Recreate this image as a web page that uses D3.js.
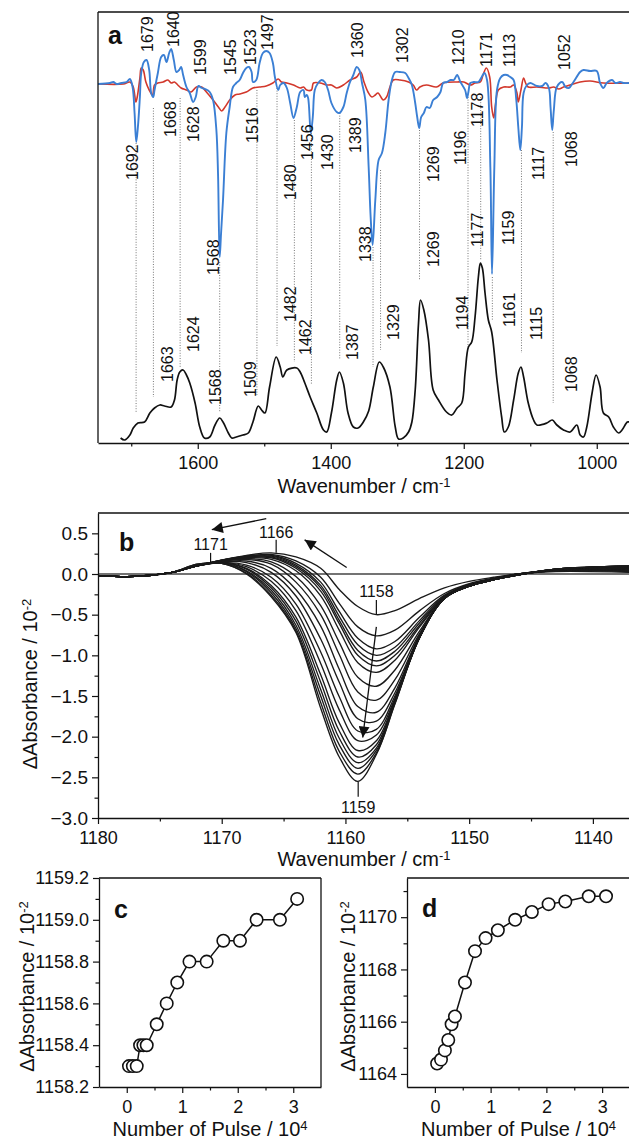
<!DOCTYPE html>
<html>
<head>
<meta charset="utf-8">
<script src="https://cdn.jsdelivr.net/npm/d3@7"></script>
<style>
body { margin: 0; background: #fff; }
svg { font-family: "Liberation Sans", Arial, sans-serif; }
</style>
</head>
<body>
<svg id="fig" width="629" height="1140"></svg>
<script>
"use strict";

// ---- panel a: difference spectra (blue, red) and reference spectrum (black), [wavenumber, value]
const blueSpectrum = [
  [1750,0],[1732,0.01],[1727,0.02],[1722,0],[1715,0.01],[1707,0.02],[1702,0.05],[1698,-0.03],[1695,-0.29],[1692.5,-0.58],[1690,-0.43],
  [1687,-0.13],[1685,0.11],[1681,0.22],[1677,0.24],[1673,0.14],[1670,-0.09],[1667,-0.13],[1665,-0.06],[1660,0.11],[1655,0.27],
  [1651,0.29],[1647,0.22],[1643,0.31],[1640,0.35],[1636,0.24],[1632,0.12],[1628,0.14],[1625,0.17],[1622,0.09],[1617,-0.03],
  [1612,-0.09],[1607,-0.18],[1603,-0.13],[1599,-0.02],[1594,-0.04],[1589,-0.05],[1582,-0.08],[1577,-0.16],[1572,-0.46],
  [1569.5,-0.9],[1567,-1.73],[1565,-1.5],[1562,-1.16],[1557,-0.49],[1552,-0.23],[1547,-0.03],[1542,0.01],[1537,0.04],[1532,0.11],
  [1527,0.16],[1523,0.17],[1519,0.12],[1517,0.02],[1512,0.04],[1507,0.21],[1502,0.31],[1497,0.33],[1492,0.31],[1487,0.21],
  [1484,0.07],[1479,-0.06],[1476,-0.01],[1471,0.01],[1466,-0.04],[1461,-0.19],[1456,-0.34],[1451,-0.23],[1446,-0.08],[1441,-0.06],
  [1439,-0.13],[1436,-0.11],[1434,-0.14],[1430,-0.49],[1427,-0.33],[1424,-0.06],[1419,0.01],[1414,0.04],[1409,0.02],[1404,-0.06],
  [1399,-0.19],[1391,-0.28],[1387,-0.29],[1381,-0.23],[1376,-0.09],[1371,0.02],[1366,0.09],[1361,0.17],[1357,0.14],[1353,0.01],
  [1348,-0.16],[1343,-0.83],[1340,-1.33],[1337,-1.61],[1333,-1.16],[1328,-0.76],[1323,-0.69],[1318,-0.49],[1313,-0.16],[1308,0.04],
  [1303,0.12],[1296,0.12],[1288,0.11],[1283,0.06],[1278,-0.01],[1273,-0.19],[1270,-0.33],[1267,-0.44],[1264,-0.33],[1260,-0.29],
  [1256,-0.23],[1251,-0.24],[1246,-0.16],[1240,-0.13],[1235,-0.08],[1231,0.01],[1225,0.02],[1220,0.04],[1215,0.04],[1210,0.09],
  [1205,0.02],[1198,-0.06],[1195,-0.14],[1193,-0.08],[1190,0.01],[1185,0.02],[1178,0.02],[1173,0.07],[1169,0.11],[1165,0.04],
  [1160,-0.83],[1157.5,-1.9],[1154,-0.83],[1150,-0.06],[1145,0.06],[1140,0.09],[1135,0.09],[1130,0.07],[1125,0.04],[1121,-0.16],
  [1118,-0.43],[1115,-0.66],[1112.5,-0.43],[1110,-0.09],[1105,-0.01],[1100,0.01],[1090,-0.02],[1082,-0.02],[1077,0.01],[1072,-0.04],
  [1069.5,-0.23],[1067,-0.46],[1064.5,-0.26],[1060,-0.03],[1052,0.02],[1047,-0.03],[1042,-0.04],[1035,0.02],[1025,0.12],[1020,0.14],
  [1010,0.13],[1000,0.13],[995,0.01],[990,-0.04],[985,0.01],[977,0.04],[972,0.01],[965,0.02],[960,0.01],[950,0.01]
];

const redSpectrum = [
  [1750,0],[1712,0],[1702,0.02],[1697,-0.03],[1693,-0.18],[1691,-0.13],[1687,0.06],[1685,0.16],[1682,0.14],[1678,0.02],
  [1673,-0.06],[1668,-0.11],[1665,-0.01],[1660,0.01],[1652,0.02],[1645,0.04],[1640,0.01],[1635,0.02],[1630,-0.01],[1625,-0.04],
  [1617,-0.06],[1610,-0.08],[1602,-0.03],[1594,-0.03],[1587,-0.08],[1577,-0.16],[1569,-0.23],[1564,-0.27],[1559,-0.23],[1552,-0.16],
  [1544,-0.11],[1537,-0.1],[1527,-0.08],[1517,-0.04],[1507,-0.03],[1497,-0.02],[1487,0.01],[1479,0.05],[1474,0.02],[1466,0.01],
  [1456,-0.01],[1446,-0.04],[1441,-0.03],[1436,-0.06],[1429,-0.06],[1426,0.01],[1416,0.01],[1406,-0.01],[1399,-0.01],[1391,-0.04],
  [1381,-0.01],[1371,0.04],[1361,0.07],[1355,0.12],[1350,0.02],[1344,-0.08],[1338,-0.13],[1333,-0.11],[1329,-0.09],[1321,-0.16],
  [1316,-0.13],[1311,-0.03],[1306,0.04],[1296,0.04],[1283,0.02],[1276,-0.01],[1271,-0.06],[1266,-0.03],[1256,-0.01],[1241,-0.03],
  [1231,0.01],[1210,0.02],[1200,0.02],[1190,-0.01],[1183,0.01],[1175,0.02],[1171,0.09],[1166,0.16],[1161,0.07],[1158,-0.23],
  [1155,-0.34],[1152,-0.19],[1148,-0.06],[1140,-0.03],[1130,-0.03],[1125,-0.01],[1120,-0.09],[1118,-0.18],[1114,-0.06],[1110,0.06],
  [1107,0.01],[1103,-0.03],[1090,-0.03],[1072,-0.04],[1065,-0.03],[1057,-0.05],[1050,-0.03],[1040,-0.01],[1025,0.02],[1010,0.03],
  [990,0.01],[950,0.01]
];

const blackSpectrum = [
  [1716,0.06],[1710,0.04],[1702,0.09],[1697,0.16],[1690,0.21],[1680,0.22],[1672,0.31],[1665,0.36],[1657,0.39],[1650,0.38],
  [1640,0.37],[1635,0.44],[1631,0.64],[1627,0.72],[1622,0.74],[1617,0.69],[1612,0.61],[1604,0.41],[1597,0.17],[1590,0.06],
  [1582,0.07],[1574,0.19],[1567,0.26],[1562,0.22],[1554,0.11],[1549,0.06],[1542,0.07],[1532,0.09],[1524,0.11],[1517,0.22],
  [1509,0.38],[1504,0.34],[1499,0.31],[1492,0.57],[1482,0.87],[1476,0.77],[1472,0.67],[1466,0.74],[1451,0.76],[1446,0.72],
  [1439,0.61],[1431,0.47],[1421,0.31],[1411,0.14],[1406,0.12],[1399,0.31],[1391,0.64],[1387,0.72],[1381,0.61],[1374,0.31],
  [1366,0.17],[1359,0.16],[1351,0.22],[1343,0.33],[1336,0.57],[1327,0.82],[1321,0.77],[1311,0.57],[1303,0.17],[1298,0.05],
  [1291,0.06],[1283,0.12],[1278,0.22],[1273,0.54],[1268,1.21],[1265,1.44],[1260,1.34],[1253,1.04],[1246,0.54],[1238,0.44],
  [1226,0.32],[1218,0.29],[1210,0.36],[1203,0.41],[1198,0.71],[1193,0.97],[1188,1.02],[1183,1.27],[1178,1.67],[1175,1.81],
  [1172,1.76],[1168,1.51],[1163,1.24],[1158,1.12],[1150,0.64],[1143,0.27],[1139,0.12],[1133,0.17],[1125,0.44],[1118,0.71],
  [1114,0.77],[1110,0.67],[1103,0.41],[1095,0.24],[1090,0.19],[1075,0.21],[1067,0.24],[1060,0.19],[1050,0.14],[1040,0.12],
  [1030,0.19],[1025,0.09],[1020,0.07],[1015,0.17],[1007,0.51],[1001,0.69],[995,0.57],[990,0.31],[982,0.27],[975,0.17],
  [967,0.11],[962,0.14],[954,0.22],[951,0.22]
];
const blackOffset = -3.6;

const aMajorTicks = [1000, 1200, 1400, 1600];
const aMinorTicks = [1100, 1300, 1500, 1700];

// band labels: [text, wavenumber of label centre, value at label start]
const aLabels = [
  ["1679",1676.2,0.32],["1640",1637.0,0.37],["1599",1596.3,0.09],["1545",1551.1,0.09],["1523",1521.0,0.19],["1497",1495.4,0.34],
  ["1360",1359.8,0.26],["1302",1292.0,0.21],["1210",1207.6,0.19],["1171",1166.9,0.17],["1113",1132.3,0.17],["1052",1049.5,0.14],
  ["1692",1698.8,-0.96],["1668",1641.5,-0.53],["1628",1606.9,-0.58],["1568",1576.7,-1.91],["1516",1518.0,-0.59],["1480",1460.7,-1.16],
  ["1456",1435.1,-0.76],["1430",1405.0,-0.86],["1389",1362.8,-0.69],["1338",1347.7,-1.78],["1269",1245.3,-0.98],["1196",1204.6,-0.81],
  ["1178",1179.0,-0.43],["1177",1179.0,-1.63],["1159",1133.8,-1.61],["1117",1088.6,-0.96],["1068",1038.9,-0.83],["1269",1245.3,-1.83],
  ["1663",1646.0,-2.98],["1624",1606.9,-2.68],["1568",1573.7,-3.21],["1509",1521.0,-3.13],["1482",1460.7,-2.38],["1462",1438.1,-2.71],
  ["1387",1367.3,-2.76],["1329",1305.6,-2.56],["1194",1201.6,-2.46],["1161",1132.3,-2.43],["1115",1091.6,-2.56],["1068",1038.9,-3.08]
];

// dotted guide lines: [wavenumber, top value, bottom value]
const aGuides = [
  [1692.7,-0.59,-3.29],[1666.7,-0.24,-3.13],[1626.5,-0.14,-2.83],[1567,-1.78,-3.28],[1511,-0.06,-3.11],[1480.8,-0.04,-2.62],
  [1454.7,-0.36,-2.78],[1429.1,-0.49,-3.01],[1386.5,-0.29,-2.76],[1336.4,-1.63,-2.83],[1325.1,-0.86,-2.66],[1266.5,-0.46,-1.96],
  [1193.6,-0.13,-2.63],[1174.5,-0.13,-1.76],[1157,-1.93,-2.36],[1113.2,-0.66,-2.69],[1065.5,-0.48,-3.19]
];

// ---- panel b: series of difference spectra
const bWavenumbers = [1180,1177,1174,1172,1170,1168,1166,1164,1162,1160.5,1159,1157.5,1156,1154,1152,1150,1148,1146,1143,1137];
const bSpectra = [
  [-0.02,-0.03,0.02,0.10,0.17,0.23,0.26,0.21,0.07,-0.19,-0.40,-0.50,-0.45,-0.30,-0.17,-0.09,-0.04,0.00,0.03,0.02],
  [-0.02,-0.03,0.02,0.10,0.17,0.22,0.24,0.16,-0.04,-0.36,-0.65,-0.76,-0.69,-0.45,-0.24,-0.12,-0.05,0.00,0.04,0.03],
  [-0.02,-0.03,0.02,0.10,0.17,0.22,0.23,0.13,-0.10,-0.46,-0.79,-0.92,-0.83,-0.53,-0.26,-0.13,-0.06,0.00,0.04,0.04],
  [-0.02,-0.03,0.02,0.10,0.17,0.21,0.22,0.11,-0.14,-0.52,-0.87,-1.00,-0.90,-0.57,-0.27,-0.13,-0.06,0.00,0.04,0.04],
  [-0.02,-0.03,0.02,0.10,0.16,0.21,0.21,0.09,-0.17,-0.57,-0.94,-1.07,-0.95,-0.60,-0.28,-0.13,-0.06,0.00,0.04,0.05],
  [-0.02,-0.03,0.02,0.10,0.16,0.20,0.20,0.07,-0.21,-0.61,-1.00,-1.13,-1.00,-0.63,-0.28,-0.14,-0.06,0.00,0.05,0.05],
  [-0.02,-0.03,0.02,0.10,0.16,0.20,0.18,0.04,-0.27,-0.69,-1.09,-1.21,-1.06,-0.65,-0.29,-0.14,-0.06,0.00,0.05,0.06],
  [-0.02,-0.03,0.02,0.10,0.16,0.19,0.15,-0.03,-0.39,-0.84,-1.27,-1.38,-1.18,-0.70,-0.29,-0.14,-0.07,0.00,0.05,0.06],
  [-0.02,-0.03,0.02,0.10,0.16,0.18,0.12,-0.10,-0.50,-0.99,-1.45,-1.55,-1.30,-0.73,-0.30,-0.15,-0.07,-0.01,0.05,0.07],
  [-0.02,-0.03,0.02,0.10,0.15,0.16,0.07,-0.19,-0.64,-1.17,-1.63,-1.70,-1.40,-0.75,-0.30,-0.15,-0.07,-0.01,0.05,0.07],
  [-0.02,-0.03,0.02,0.10,0.15,0.14,0.02,-0.27,-0.80,-1.33,-1.78,-1.81,-1.46,-0.76,-0.30,-0.15,-0.07,-0.01,0.05,0.08],
  [-0.02,-0.03,0.02,0.10,0.14,0.11,-0.04,-0.37,-0.96,-1.51,-1.93,-1.91,-1.50,-0.77,-0.30,-0.15,-0.07,-0.01,0.06,0.08],
  [-0.02,-0.03,0.02,0.10,0.14,0.09,-0.09,-0.45,-1.10,-1.67,-2.05,-1.98,-1.53,-0.77,-0.30,-0.15,-0.07,-0.01,0.06,0.09],
  [-0.02,-0.03,0.02,0.10,0.14,0.07,-0.14,-0.53,-1.24,-1.83,-2.17,-2.05,-1.55,-0.78,-0.30,-0.15,-0.07,-0.01,0.06,0.09],
  [-0.02,-0.03,0.02,0.10,0.14,0.06,-0.17,-0.58,-1.33,-1.93,-2.25,-2.10,-1.56,-0.78,-0.30,-0.15,-0.07,-0.01,0.06,0.09],
  [-0.02,-0.03,0.02,0.11,0.14,0.04,-0.20,-0.63,-1.42,-2.02,-2.32,-2.14,-1.57,-0.78,-0.30,-0.15,-0.07,-0.01,0.06,0.10],
  [-0.02,-0.03,0.02,0.11,0.13,0.03,-0.23,-0.67,-1.50,-2.10,-2.39,-2.17,-1.58,-0.78,-0.30,-0.15,-0.07,-0.01,0.06,0.10],
  [-0.02,-0.03,0.02,0.12,0.13,0.01,-0.26,-0.70,-1.58,-2.18,-2.46,-2.20,-1.59,-0.78,-0.30,-0.15,-0.07,-0.01,0.06,0.10],
  [-0.02,-0.03,0.02,0.12,0.13,0.00,-0.28,-0.72,-1.65,-2.25,-2.55,-2.22,-1.60,-0.78,-0.30,-0.15,-0.07,-0.01,0.06,0.10]
];
const bMajorX = [1180, 1170, 1160, 1150, 1140];
const bMinorX = [1175, 1165, 1155, 1145];
const bMajorY = [-3.0, -2.5, -2.0, -1.5, -1.0, -0.5, 0.0, 0.5];
const bMinorY = [-2.75, -2.25, -1.75, -1.25, -0.75, -0.25, 0.25];
// peak markers: [text, wavenumber, tick from, tick to, text baseline value]
const bPeakMarks = [
  ["1171", 1170.9, 0.14, 0.26, 0.29],
  ["1166", 1165.6, 0.26, 0.42, 0.44],
  ["1158", 1157.5, -0.50, -0.32, -0.28],
  ["1159", 1158.97, -2.55, -2.74, -2.94]
];
// arrows: [from wn, from value, to wn, to value]
const bArrows = [
  [1166.4, 0.68, 1170.8, 0.545],
  [1159.9, 0.08, 1163.3, 0.42],
  [1157.5, -0.65, 1158.6, -2.01]
];

// ---- panels c and d: band position against number of pulses
const pulses = [0.04, 0.11, 0.18, 0.24, 0.30, 0.36, 0.54, 0.72, 0.91, 1.13, 1.44, 1.74, 2.04, 2.34, 2.76, 3.07];
const band1159 = [1158.3,1158.3,1158.3,1158.4,1158.4,1158.4,1158.5,1158.6,1158.7,1158.8,1158.8,1158.9,1158.9,1159.0,1159.0,1159.1];
const band1166 = [1164.4,1164.55,1164.9,1165.3,1165.9,1166.2,1167.5,1168.7,1169.2,1169.5,1169.9,1170.2,1170.5,1170.6,1170.8,1170.8];
const pulseMajor = [0, 1, 2, 3];
const pulseMinor = [0.5, 1.5, 2.5];
const cMajorY = [1158.2, 1158.4, 1158.6, 1158.8, 1159.0, 1159.2];
const cMinorY = [1158.3, 1158.5, 1158.7, 1158.9, 1159.1];
const dMajorY = [1164, 1166, 1168, 1170];
const dMinorY = [1165, 1167, 1169, 1171];

const ink = "#111";
const svg = d3.select("#fig");

svg.append("defs").append("marker")
    .attr("id", "head")
    .attr("viewBox", "0 0 10 10")
    .attr("refX", 10).attr("refY", 5)
    .attr("markerUnits", "userSpaceOnUse")
    .attr("markerWidth", 17).attr("markerHeight", 11)
    .attr("orient", "auto")
    .append("path").attr("d", "M0,0L10,5L0,10z").attr("fill", ink);

function styleAxis(g, fs) {
    g.attr("font-family", null).attr("font-size", fs);
    g.selectAll("text").attr("fill", ink);
    g.selectAll("line").attr("stroke", ink).attr("stroke-width", 1.2);
    g.selectAll(".domain").attr("stroke", ink).attr("stroke-width", 1.3);
    return g;
}

function xAxis(scale, y, major, minor, fmt, fs) {
    const g = svg.append("g").attr("transform", `translate(0,${y})`);
    g.call(d3.axisBottom(scale).tickValues(major).tickFormat(fmt).tickSize(6).tickSizeOuter(0).tickPadding(7));
    g.append("g").call(d3.axisBottom(scale).tickValues(minor).tickFormat("").tickSize(3.5))
        .call(m => m.select(".domain").remove());
    return styleAxis(g, fs);
}

function yAxis(scale, x, major, minor, fmt, fs) {
    const g = svg.append("g").attr("transform", `translate(${x},0)`);
    g.call(d3.axisLeft(scale).tickValues(major).tickFormat(fmt).tickSize(6).tickSizeOuter(0).tickPadding(4));
    g.append("g").call(d3.axisLeft(scale).tickValues(minor).tickFormat("").tickSize(3.5))
        .call(m => m.select(".domain").remove());
    return styleAxis(g, fs);
}

function frameLine(x1, y1, x2, y2) {
    svg.append("line").attr("x1", x1).attr("y1", y1).attr("x2", x2).attr("y2", y2)
        .attr("stroke", ink).attr("stroke-width", 1.3);
}

function title(text, sup, x, y, rotate, fs) {
    const t = svg.append("text")
        .attr("transform", `translate(${x},${y})` + (rotate ? " rotate(-90)" : ""))
        .attr("text-anchor", "middle").attr("font-size", fs).attr("fill", ink)
        .text(text);
    t.append("tspan").attr("dy", "-0.45em").attr("font-size", "0.65em").text(sup);
}

function panelLetter(letter, x, y) {
    svg.append("text").attr("x", x).attr("y", y).attr("font-size", 25).attr("font-weight", "bold")
        .attr("fill", ink).text(letter);
}

// ================= panel a =================
const xA = d3.scaleLinear([1750, 950], [98, 630]);
const yA = d3.scaleLinear([-3.59, 0.72], [443, 12]);

svg.append("clipPath").attr("id", "clipA").append("rect")
    .attr("x", 98).attr("y", 12).attr("width", 532).attr("height", 431);

const lineA = d3.line().x(d => xA(d[0])).y(d => yA(d[1])).curve(d3.curveCatmullRom.alpha(0.5));

const guides = svg.append("g");
guides.selectAll("line").data(aGuides).join("line")
    .attr("x1", d => xA(d[0])).attr("x2", d => xA(d[0]))
    .attr("y1", d => yA(d[1])).attr("y2", d => yA(d[2]))
    .attr("stroke", "#777").attr("stroke-width", 1).attr("stroke-dasharray", "1,1.6");

const curvesA = svg.append("g").attr("clip-path", "url(#clipA)");
curvesA.append("path").attr("d", lineA(blackSpectrum.map(d => [d[0], d[1] + blackOffset])))
    .attr("fill", "none").attr("stroke", "#111").attr("stroke-width", 1.7);
curvesA.append("path").attr("d", lineA(redSpectrum))
    .attr("fill", "none").attr("stroke", "#d2382c").attr("stroke-width", 1.6);
curvesA.append("path").attr("d", lineA(blueSpectrum))
    .attr("fill", "none").attr("stroke", "#3b7fd4").attr("stroke-width", 1.9);

svg.append("g").selectAll("text").data(aLabels).join("text")
    .attr("transform", d => `translate(${xA(d[1])},${yA(d[2])}) rotate(-90)`)
    .attr("dy", "0.36em").attr("font-size", 16).attr("fill", ink)
    .text(d => d[0]);

xAxis(xA, yA.range()[0], aMajorTicks, aMinorTicks, d3.format("d"), 18);
frameLine(xA.range()[0], yA.range()[1], xA.range()[0], yA.range()[0]);
frameLine(xA.range()[0], yA.range()[1], xA.range()[1], yA.range()[1]);
title("Wavenumber / cm", "-1", d3.mean(xA.range()), 493, false, 20);
panelLetter("a", 108, 44);

// ================= panel b =================
const xB = d3.scaleLinear([1180, 1137], [98, 630]);
const yB = d3.scaleLinear([-3.0, 0.75], [818, 513]);

svg.append("line")
    .attr("x1", xB.range()[0]).attr("x2", xB.range()[1]).attr("y1", yB(0)).attr("y2", yB(0))
    .attr("stroke", "#444").attr("stroke-width", 1.3);

const lineB = d3.line().x((d, i) => xB(bWavenumbers[i])).y(d => yB(d)).curve(d3.curveCatmullRom.alpha(0.5));
svg.append("g").selectAll("path").data(bSpectra).join("path")
    .attr("d", d => lineB(d))
    .attr("fill", "none").attr("stroke", "#1a1a1a").attr("stroke-width", 1.35);

const marks = svg.append("g");
marks.selectAll("line").data(bPeakMarks).join("line")
    .attr("x1", d => xB(d[1])).attr("x2", d => xB(d[1]))
    .attr("y1", d => yB(d[2])).attr("y2", d => yB(d[3]))
    .attr("stroke", ink).attr("stroke-width", 1.2);
marks.selectAll("text").data(bPeakMarks).join("text")
    .attr("x", d => xB(d[1])).attr("y", d => yB(d[4]))
    .attr("text-anchor", "middle").attr("font-size", 16).attr("fill", ink)
    .text(d => d[0]);

svg.append("g").selectAll("line").data(bArrows).join("line")
    .attr("x1", d => xB(d[0])).attr("y1", d => yB(d[1]))
    .attr("x2", d => xB(d[2])).attr("y2", d => yB(d[3]))
    .attr("stroke", ink).attr("stroke-width", 1.3).attr("marker-end", "url(#head)");

xAxis(xB, yB.range()[0], bMajorX, bMinorX, d3.format("d"), 18);
yAxis(yB, xB.range()[0], bMajorY, bMinorY, d3.format(".1f"), 19);
frameLine(xB.range()[0], yB.range()[1], xB.range()[1], yB.range()[1]);
title("Wavenumber / cm", "-1", d3.mean(xB.range()), 866, false, 20);
title("\u0394Absorbance / 10", "-2", 37, 684, true, 20);
panelLetter("b", 119, 551);

// ================= panels c, d =================
function pulsePanel(values, xRange, yDomain, majorY, minorY, fmt, titleX, letter, letterPos) {
    const x = d3.scaleLinear([-0.5, 3.5], xRange);
    const y = d3.scaleLinear(yDomain, [1087, 878]);
    const pts = pulses.map((p, i) => [p, values[i]]);
    svg.append("path")
        .attr("d", d3.line().x(d => x(d[0])).y(d => y(d[1]))(pts))
        .attr("fill", "none").attr("stroke", ink).attr("stroke-width", 1.5);
    svg.append("g").selectAll("circle").data(pts).join("circle")
        .attr("cx", d => x(d[0])).attr("cy", d => y(d[1])).attr("r", 6.2)
        .attr("fill", "#fff").attr("stroke", ink).attr("stroke-width", 1.6);
    xAxis(x, y.range()[0], pulseMajor, pulseMinor, d3.format("d"), 18);
    yAxis(y, x.range()[0], majorY, minorY, fmt, 18);
    frameLine(x.range()[0], y.range()[1], x.range()[1], y.range()[1]);
    frameLine(x.range()[1], y.range()[1], x.range()[1], y.range()[0]);
    title("Number of Pulse / 10", "4", d3.mean(x.range()), 1136, false, 20);
    title("\u0394Absorbance / 10", "-2", titleX, d3.mean(y.range()) + 4, true, 20);
    panelLetter(letter, letterPos[0], letterPos[1]);
}

pulsePanel(band1159, [99, 321], [1158.2, 1159.2], cMajorY, cMinorY, d3.format(".1f"), 34, "c", [114, 918]);
pulsePanel(band1166, [407, 630], [1163.5, 1171.5], dMajorY, dMinorY, d3.format("d"), 355, "d", [422, 917]);
</script>
</body>
</html>
